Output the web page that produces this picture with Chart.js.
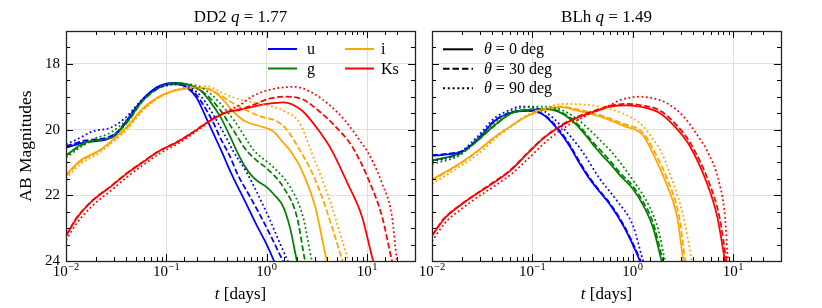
<!DOCTYPE html>
<html><head><meta charset="utf-8">
<script src="https://cdn.jsdelivr.net/npm/chart.js@4/dist/chart.umd.min.js"></script>
<style>
html,body{margin:0;padding:0;background:#fff;}
#wrap{position:relative;width:822px;height:308px;overflow:hidden;background:#fff;}
canvas{position:absolute;top:0;}
</style></head><body>
<div id="wrap">
<canvas id="left" width="420" height="308" style="left:0px"></canvas>
<canvas id="right" width="422" height="308" style="left:400px"></canvas>
</div>
<script>
// ---- categories / labels ----
const BANDS = ['u', 'g', 'i', 'Ks'];
const ANGLES = [0, 30, 90];
const X_TICK_DECADES = [-2, -1, 0, 1];
const Y_TICK_LABELS = [18, 20, 22, 24];

// ---- DD2 q = 1.77 : [t (days), AB mag] ----
const dd2_u_0 = [[0.01,20.55],[0.0158,20.38],[0.0251,20.31],[0.0316,20.15],[0.0398,19.75],[0.05,19.32],[0.063,18.97],[0.0794,18.72],[0.1,18.6],[0.115,18.58],[0.13,18.6],[0.16,18.72],[0.2,19.03],[0.25,19.65],[0.3,20.18],[0.35,20.62],[0.45,21.38],[0.6,22.15],[0.8,22.93],[1.0,23.5],[1.2,24.05],[1.4,24.6]];
const dd2_u_30 = [[0.01,20.5],[0.0158,20.33],[0.0251,20.25],[0.0316,20.1],[0.0398,19.75],[0.05,19.33],[0.063,18.98],[0.0794,18.73],[0.1,18.62],[0.125,18.6],[0.16,18.7],[0.2,18.95],[0.25,19.4],[0.3,19.85],[0.35,20.3],[0.42,20.75],[0.52,21.4],[0.66,21.97],[0.84,22.55],[1.05,23.12],[1.45,24.0],[1.75,24.5]];
const dd2_u_90 = [[0.01,20.45],[0.0128,20.3],[0.0186,20.05],[0.0275,19.95],[0.0398,19.62],[0.05,19.28],[0.063,18.97],[0.0794,18.76],[0.1,18.66],[0.13,18.63],[0.16,18.68],[0.2,18.85],[0.25,19.2],[0.3,19.6],[0.38,20.15],[0.46,20.64],[0.63,21.3],[0.84,22.05],[1.05,22.68],[1.37,23.5],[1.62,24.0],[2.0,24.6]];
const dd2_g_0 = [[0.01,20.79],[0.0138,20.48],[0.0186,20.33],[0.0275,20.24],[0.0403,19.78],[0.0586,19.1],[0.0865,18.7],[0.109,18.6],[0.13,18.58],[0.16,18.62],[0.217,18.8],[0.273,19.15],[0.343,19.6],[0.43,20.2],[0.5,20.64],[0.6,21.1],[0.73,21.45],[0.86,21.62],[1.0,21.75],[1.2,22.0],[1.46,22.35],[1.71,23.0],[2.0,24.0],[2.3,24.7]];
const dd2_g_30 = [[0.01,20.8],[0.0138,20.5],[0.0186,20.35],[0.0275,20.25],[0.0403,19.8],[0.0586,19.12],[0.0865,18.72],[0.109,18.62],[0.16,18.63],[0.217,18.8],[0.273,19.05],[0.343,19.4],[0.45,19.95],[0.63,20.64],[0.8,20.95],[1.0,21.18],[1.46,21.75],[2.0,22.66],[2.41,24.0],[2.7,24.6]];
const dd2_g_90 = [[0.01,20.85],[0.0138,20.55],[0.0186,20.3],[0.0275,20.1],[0.0403,19.7],[0.0586,19.1],[0.0865,18.72],[0.109,18.63],[0.16,18.62],[0.217,18.7],[0.273,18.9],[0.343,19.2],[0.48,19.75],[0.75,20.64],[1.16,21.14],[1.71,21.75],[2.3,22.66],[2.82,24.0],[3.2,24.6]];
const dd2_i_0 = [[0.01,21.38],[0.0138,20.95],[0.0218,20.62],[0.0275,20.38],[0.0403,19.92],[0.0586,19.35],[0.0865,18.98],[0.127,18.8],[0.185,18.74],[0.255,18.75],[0.343,19.0],[0.462,19.45],[0.61,19.75],[0.86,19.9],[1.16,20.05],[1.46,20.4],[1.71,20.64],[2.24,21.25],[3.04,22.35],[3.98,24.0],[4.6,24.6]];
const dd2_i_30 = [[0.01,21.42],[0.0138,20.98],[0.0218,20.64],[0.0275,20.4],[0.0403,19.95],[0.0586,19.38],[0.0865,19.0],[0.127,18.8],[0.185,18.74],[0.255,18.76],[0.343,18.95],[0.462,19.2],[0.86,19.6],[1.26,19.75],[1.58,20.0],[2.15,20.64],[2.82,21.3],[3.5,22.0],[4.4,22.9],[5.7,24.0],[6.5,24.5]];
const dd2_i_90 = [[0.01,21.5],[0.0138,21.05],[0.0218,20.7],[0.0275,20.45],[0.0403,20.0],[0.0586,19.42],[0.0865,19.0],[0.127,18.78],[0.185,18.7],[0.255,18.68],[0.343,18.85],[0.462,19.02],[0.86,19.22],[1.46,19.42],[2.15,19.82],[2.75,20.64],[3.4,21.35],[4.3,22.2],[5.3,23.1],[6.5,24.0],[7.2,24.5]];
const dd2_K_0 = [[0.01,23.24],[0.0128,22.7],[0.0186,22.15],[0.0275,21.75],[0.0403,21.34],[0.0586,20.99],[0.0865,20.64],[0.127,20.39],[0.185,20.08],[0.273,19.73],[0.4,19.48],[0.54,19.4],[0.73,19.3],[1.0,19.22],[1.46,19.17],[2.24,19.42],[3.3,20.03],[4.46,20.64],[6.3,21.6],[8.9,22.65],[11.5,24.0],[13,24.5]];
const dd2_K_30 = [[0.01,23.22],[0.0128,22.68],[0.0186,22.14],[0.0275,21.74],[0.0403,21.33],[0.0586,20.98],[0.0865,20.63],[0.127,20.38],[0.185,20.07],[0.273,19.72],[0.4,19.46],[0.54,19.38],[0.73,19.25],[1.03,19.07],[1.52,19.0],[2.24,19.07],[3.27,19.42],[4.81,19.9],[7.07,20.51],[10.26,21.5],[14.1,22.65],[17.7,24.0],[19.5,24.5]];
const dd2_K_90 = [[0.01,23.36],[0.0128,22.85],[0.0186,22.3],[0.0275,21.88],[0.0403,21.45],[0.0586,21.08],[0.0865,20.72],[0.127,20.45],[0.185,20.12],[0.273,19.75],[0.4,19.45],[0.54,19.25],[0.71,19.0],[1.03,18.8],[1.9,18.7],[2.8,18.87],[4.1,19.22],[6.05,19.73],[8.9,20.43],[9.96,20.64],[14.1,21.64],[17.7,22.65],[19.8,24.0],[21,24.5]];

// ---- BLh q = 1.49 : [t (days), AB mag] ----
const blh_u_0 = [[0.01,20.8],[0.015,20.75],[0.02,20.67],[0.0287,20.3],[0.042,19.74],[0.062,19.48],[0.09,19.43],[0.106,19.45],[0.133,19.58],[0.195,20.14],[0.24,20.55],[0.285,20.95],[0.36,21.44],[0.47,21.9],[0.6,22.3],[0.81,22.94],[1.18,24.0],[1.4,24.6]];
const blh_u_30 = [[0.01,20.78],[0.015,20.73],[0.02,20.65],[0.0287,20.28],[0.042,19.73],[0.062,19.47],[0.09,19.42],[0.106,19.44],[0.133,19.56],[0.195,20.1],[0.24,20.5],[0.285,20.9],[0.36,21.4],[0.47,21.87],[0.6,22.27],[0.81,22.9],[1.2,24.0],[1.42,24.6]];
const blh_u_90 = [[0.01,20.95],[0.015,20.85],[0.02,20.65],[0.0287,20.2],[0.042,19.65],[0.062,19.38],[0.075,19.3],[0.09,19.3],[0.106,19.33],[0.133,19.45],[0.195,19.9],[0.31,20.64],[0.47,21.5],[0.69,22.15],[1.01,22.94],[1.27,24.0],[1.5,24.6]];
const blh_g_0 = [[0.01,20.94],[0.0196,20.7],[0.0287,20.32],[0.042,19.87],[0.062,19.5],[0.09,19.4],[0.133,19.38],[0.195,19.5],[0.285,19.9],[0.4,20.45],[0.5,20.8],[0.6,21.05],[0.75,21.4],[1.0,21.8],[1.27,22.3],[1.6,23.0],[1.94,24.0],[2.2,24.6]];
const blh_g_30 = [[0.01,20.95],[0.0196,20.72],[0.0287,20.33],[0.042,19.88],[0.062,19.5],[0.09,19.4],[0.133,19.37],[0.195,19.47],[0.285,19.85],[0.4,20.38],[0.5,20.7],[0.6,20.97],[0.75,21.32],[1.0,21.72],[1.27,22.2],[1.6,22.85],[2.0,24.0],[2.25,24.6]];
const blh_g_90 = [[0.01,21.05],[0.0196,20.75],[0.0287,20.25],[0.042,19.8],[0.062,19.42],[0.09,19.32],[0.133,19.3],[0.195,19.4],[0.285,19.7],[0.4,20.1],[0.5,20.4],[0.6,20.64],[1.01,21.55],[1.47,22.35],[1.8,23.05],[2.1,24.0],[2.4,24.6]];
const blh_i_0 = [[0.01,21.52],[0.0196,21.0],[0.0287,20.64],[0.042,20.23],[0.062,19.88],[0.09,19.58],[0.133,19.4],[0.195,19.32],[0.277,19.42],[0.5,19.63],[0.8,19.88],[1.27,20.18],[1.6,20.75],[2.1,21.55],[2.77,22.65],[3.2,24.0],[3.5,24.6]];
const blh_i_30 = [[0.01,21.55],[0.0196,21.02],[0.0287,20.65],[0.042,20.24],[0.062,19.88],[0.09,19.57],[0.133,19.38],[0.195,19.3],[0.277,19.38],[0.5,19.58],[0.8,19.82],[1.27,20.1],[1.6,20.6],[2.2,21.5],[2.9,22.65],[3.35,24.0],[3.7,24.6]];
const blh_i_90 = [[0.01,21.65],[0.0196,21.1],[0.0287,20.75],[0.042,20.3],[0.062,19.9],[0.09,19.55],[0.133,19.35],[0.2,19.22],[0.4,19.27],[0.81,19.52],[1.27,19.9],[1.6,20.3],[1.94,20.7],[2.54,21.64],[3.2,22.65],[3.9,24.0],[4.3,24.6]];
const blh_K_0 = [[0.01,23.24],[0.0134,22.7],[0.0196,22.28],[0.0287,21.93],[0.042,21.6],[0.062,21.22],[0.09,20.72],[0.133,20.23],[0.195,19.88],[0.285,19.63],[0.42,19.45],[0.6,19.3],[0.87,19.26],[1.27,19.32],[1.87,19.5],[2.7,19.95],[3.7,20.5],[5.5,21.64],[6.95,22.65],[8.3,24.0],[9,24.6]];
const blh_K_30 = [[0.01,23.22],[0.0134,22.68],[0.0196,22.27],[0.0287,21.92],[0.042,21.58],[0.062,21.2],[0.09,20.7],[0.133,20.22],[0.195,19.86],[0.285,19.6],[0.42,19.42],[0.6,19.27],[0.87,19.22],[1.27,19.27],[1.87,19.42],[2.7,19.85],[3.7,20.38],[5.8,21.64],[7.3,22.65],[8.6,24.0],[9.3,24.6]];
const blh_K_90 = [[0.01,23.4],[0.0134,22.85],[0.0196,22.42],[0.0287,22.05],[0.042,21.72],[0.062,21.35],[0.09,20.9],[0.133,20.4],[0.195,20.0],[0.285,19.7],[0.42,19.45],[0.6,19.25],[0.75,19.1],[1.18,19.0],[1.6,19.05],[2.2,19.2],[3.2,19.6],[4.7,20.3],[5.5,20.64],[7.3,21.64],[8.3,22.65],[8.9,24.0],[9.4,24.6]];

// ---- styles ----
const COLORS = ['#0000ff', '#008000', '#ffa500', '#ff0000'];
const DASHES = [[], [6, 2.6], [1.8, 2.6]];
const LEG_DASHES = [[], [6.5, 3], [2, 2.8]];
const SERIF = '"Liberation Serif", "DejaVu Serif", serif';
const GRID = '#e0e0e0';

const DD2 = { u: [dd2_u_0, dd2_u_30, dd2_u_90], g: [dd2_g_0, dd2_g_30, dd2_g_90], i: [dd2_i_0, dd2_i_30, dd2_i_90], Ks: [dd2_K_0, dd2_K_30, dd2_K_90] };
const BLH = { u: [blh_u_0, blh_u_30, blh_u_90], g: [blh_g_0, blh_g_30, blh_g_90], i: [blh_i_0, blh_i_30, blh_i_90], Ks: [blh_K_0, blh_K_30, blh_K_90] };

function isDecade(v) { const l = Math.log10(v); return Math.abs(l - Math.round(l)) < 1e-9; }

function drawSegments(ctx, segs, cx, baseY, size) {
  let w = 0;
  segs.forEach(s => { ctx.font = (s.it ? 'italic ' : '') + size + 'px ' + SERIF; s.w = ctx.measureText(s.t).width; w += s.w; });
  let x = cx - w / 2;
  segs.forEach(s => { ctx.font = (s.it ? 'italic ' : '') + size + 'px ' + SERIF; ctx.fillText(s.t, x, baseY); x += s.w; });
}
function drawSegmentsLeft(ctx, segs, x, baseY, size) {
  segs.forEach(s => { ctx.font = (s.it ? 'italic ' : '') + size + 'px ' + SERIF; ctx.fillText(s.t, x, baseY); x += ctx.measureText(s.t).width; });
}

const panelPlugin = {
  id: 'panel',
  afterDraw(chart, args, o) {
    const ctx = chart.ctx, a = chart.chartArea, xs = chart.scales.x, ys = chart.scales.y;
    ctx.save();
    ctx.strokeStyle = '#000'; ctx.fillStyle = '#000'; ctx.lineWidth = 1;
    const line = (x1, y1, x2, y2) => { ctx.beginPath(); ctx.moveTo(x1, y1); ctx.lineTo(x2, y2); ctx.stroke(); };
    // x ticks (inward, top and bottom)
    xs.ticks.forEach(t => {
      const px = Math.round(xs.getPixelForValue(t.value)) + 0.5;
      if (px < a.left || px > a.right) return;
      const L = isDecade(t.value) ? 7 : 4;
      line(px, a.bottom, px, a.bottom - L); line(px, a.top, px, a.top + L);
    });
    ys.ticks.forEach(t => {
      const py = Math.round(ys.getPixelForValue(t.value)) + 0.5;
      const L = (t.value % 2 === 0) ? 7 : 4;
      line(a.left, py, a.left + L, py); line(a.right, py, a.right - L, py);
    });
    // frame
    ctx.lineWidth = 1.3; ctx.strokeStyle = '#222';
    ctx.strokeRect(Math.round(a.left) + 0.5, Math.round(a.top) + 0.5, Math.round(a.right - a.left), Math.round(a.bottom - a.top));
    ctx.fillStyle = '#000';
    // x tick labels 10^n
    ctx.textAlign = 'left'; ctx.textBaseline = 'alphabetic';
    X_TICK_DECADES.forEach(e => {
      const px = xs.getPixelForValue(Math.pow(10, e));
      const es = e < 0 ? '\u2212' + (-e) : String(e);
      ctx.font = '15px ' + SERIF; const wb = ctx.measureText('10').width;
      ctx.font = '10.5px ' + SERIF; const we = ctx.measureText(es).width;
      const x0 = px - (wb + we + 0.5) / 2;
      ctx.font = '15px ' + SERIF; ctx.fillText('10', x0, a.bottom + 15);
      ctx.font = '10.5px ' + SERIF; ctx.fillText(es, x0 + wb + 0.5, a.bottom + 9);
    });
    // y tick labels
    if (o.yLabels) {
      ctx.textAlign = 'right'; ctx.textBaseline = 'middle'; ctx.font = '15px ' + SERIF;
      Y_TICK_LABELS.forEach(v => ctx.fillText(String(v), a.left - 6, ys.getPixelForValue(v)));
      ctx.save();
      ctx.translate(31, (a.top + a.bottom) / 2); ctx.rotate(-Math.PI / 2);
      ctx.textAlign = 'center'; ctx.textBaseline = 'alphabetic'; ctx.font = '17.5px ' + SERIF;
      ctx.fillText('AB Magnitudes', 0, 0);
      ctx.restore();
    }
    // title
    ctx.textAlign = 'left'; ctx.textBaseline = 'alphabetic';
    drawSegments(ctx, o.title, (a.left + a.right) / 2, 22, 17);
    // x axis title
    drawSegments(ctx, [{ t: 't', it: true }, { t: ' [days]' }], (a.left + a.right) / 2, 299, 17);
    // legends
    ctx.lineWidth = 2;
    if (o.legend === 'bands') {
      const cols = [a.right - 147, a.right - 70];
      BANDS.forEach((b, k) => {
        const c = Math.floor(k / 2), r = k % 2;
        const y = a.top + 18 + r * 19.5;
        ctx.strokeStyle = COLORS[k]; ctx.setLineDash([]);
        line(cols[c], y, cols[c] + 29, y);
        ctx.fillStyle = '#000'; ctx.font = '16px ' + SERIF;
        ctx.fillText(b, cols[c] + (c === 0 ? 39 : 36), y + 5);
      });
    } else if (o.legend === 'angles') {
      ANGLES.forEach((ang, k) => {
        const y = a.top + 18.3 + k * 19.5;
        ctx.strokeStyle = '#000'; ctx.setLineDash(LEG_DASHES[k]);
        line(a.left + 11, y, a.left + 41, y);
        ctx.setLineDash([]);
        drawSegmentsLeft(ctx, [{ t: '\u03b8', it: true }, { t: ' = ' + ang + ' deg' }], a.left + 52, y + 5, 16);
      });
    }
    ctx.restore();
  }
};

function makeChart(id, panel, opts) {
  const datasets = [];
  ANGLES.forEach((ang, ai) => BANDS.forEach((b, bi) => {
    datasets.push({
      label: b + ' ' + ang,
      data: panel[b][ai].map(p => ({ x: p[0], y: p[1] })),
      borderColor: COLORS[bi], backgroundColor: COLORS[bi],
      borderWidth: 1.75, borderDash: DASHES[ai],
      pointRadius: 0, fill: false, cubicInterpolationMode: 'monotone'
    });
  }));
  datasets.reverse();
  return new Chart(document.getElementById(id), {
    type: 'line',
    data: { datasets },
    options: {
      responsive: false, animation: false, devicePixelRatio: 1, events: [],
      layout: { padding: { top: 31, right: opts.rightPad, left: 0, bottom: 0 } },
      plugins: { legend: { display: false }, tooltip: { enabled: false }, title: { display: false }, panel: opts },
      scales: {
        x: {
          type: 'logarithmic', min: 0.01, max: 30,
          ticks: { display: false, autoSkip: false },
          grid: { drawTicks: false, lineWidth: 1, color: c => (c.tick && isDecade(c.tick.value)) ? GRID : 'rgba(0,0,0,0)' },
          border: { display: false },
          afterFit: s => { s.height = 47; }
        },
        y: {
          type: 'linear', reverse: true, min: 17, max: 24,
          ticks: { display: false, stepSize: 0.5, autoSkip: false },
          grid: { drawTicks: false, lineWidth: 1, color: c => (c.tick && c.tick.value % 2 === 0) ? GRID : 'rgba(0,0,0,0)' },
          border: { display: false },
          afterFit: s => { s.width = opts.yWidth; }
        }
      }
    },
    plugins: [panelPlugin]
  });
}

makeChart('left', DD2, { rightPad: 5, yWidth: 66, yLabels: true, legend: 'bands',
  title: [{ t: 'DD2 ' }, { t: 'q', it: true }, { t: ' = 1.77' }] });
makeChart('right', BLH, { rightPad: 41, yWidth: 32, yLabels: false, legend: 'angles',
  title: [{ t: 'BLh ' }, { t: 'q', it: true }, { t: ' = 1.49' }] });
</script>
</body></html>
